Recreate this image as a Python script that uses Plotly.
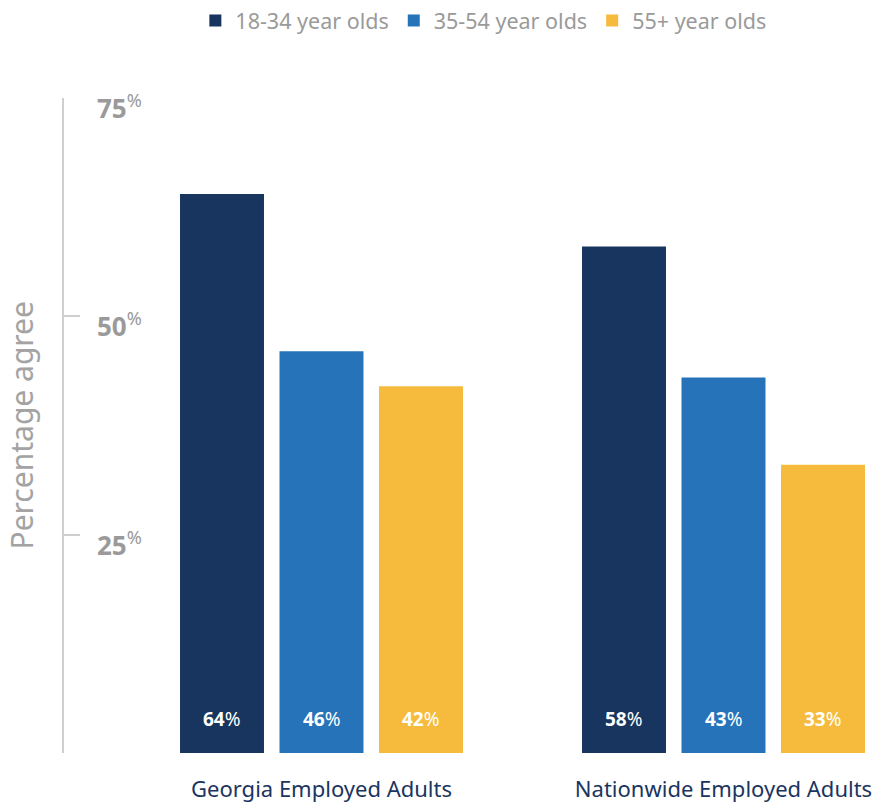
import plotly.graph_objects as go

categories = ["Georgia Employed Adults", "Nationwide Employed Adults"]
series_names = ["18-34 year olds", "35-54 year olds", "55+ year olds"]
values_18_34 = [64, 58]
values_35_54 = [46, 43]
values_55_plus = [42, 33]
colors = ["#17355e", "#2673b9", "#f6bb3c"]
y_tickvals = [0, 25, 50, 75]
y_ticklabels = ["25", "50", "75"]
y_title = "Percentage agree"

FONT = "Noto Sans"
all_series = [values_18_34, values_35_54, values_55_plus]

bargap = 0.2575
bargroupgap = 0.156
fig = go.Figure()
for name, vals, col in zip(series_names, all_series, colors):
    fig.add_trace(go.Bar(
        x=list(range(len(categories))), y=vals, name=name,
        marker=dict(color=col, line=dict(width=0)),
        hoverinfo="skip",
    ))

annotations = []
slot = (1 - bargap) / 3
for j, vals in enumerate(all_series):
    for i, v in enumerate(vals):
        annotations.append(dict(
            x=i + (j - 1) * slot, y=0, xref="x", yref="y",
            text=f"<b>{v}</b>%", showarrow=False,
            yanchor="bottom", yshift=19,
            font=dict(family=FONT, size=19, color="white"),
        ))
for lab in y_ticklabels:
    annotations.append(dict(
        x=0, xref="paper", xanchor="left", xshift=31,
        y=float(lab), yref="y", yanchor="top", yshift=12,
        text=f"<b>{lab}</b><sup>%</sup>", showarrow=False,
        font=dict(family=FONT, size=26, color="#9a9a9a"),
    ))
annotations.append(dict(
    x=0, xref="paper", xanchor="center", xshift=-43,
    y=0.5, yref="paper", yanchor="middle",
    text=y_title, textangle=-90, showarrow=False,
    font=dict(family=FONT, size=30, color="#a3a3a3"),
))

fig.update_layout(
    width=872, height=804,
    margin=dict(l=64, r=0, t=98, b=51),
    paper_bgcolor="white", plot_bgcolor="white",
    barmode="group", bargap=bargap, bargroupgap=bargroupgap,
    font=dict(family=FONT, color="#9a9a9a"),
    legend=dict(orientation="h", x=0.519, xref="paper", xanchor="center",
                y=1, yref="container", yanchor="top",
                font=dict(size=21.5, color="#9a9a9a"), traceorder="normal",
                itemclick=False, itemdoubleclick=False, itemwidth=30),
    annotations=annotations,
    showlegend=True,
)
fig.update_xaxes(
    tickmode="array", tickvals=list(range(len(categories))), ticktext=categories,
    range=[-(321.5 - 64) / 402, (872 - 321.5) / 402],
    showline=False, showgrid=False, zeroline=False,
    ticks="", tickfont=dict(family=FONT, size=22, color="#1a3560"),
    ticklabelstandoff=21, ticklabeloverflow="allow", automargin=False,
)
fig.update_yaxes(
    range=[0, 75], tickmode="array", tickvals=y_tickvals, showticklabels=False,
    showline=True, linecolor="#cfcfcf", linewidth=2,
    ticks="inside", ticklen=16, tickwidth=2, tickcolor="#cfcfcf",
    showgrid=False, zeroline=False, automargin=False,
)
fig.write_html("out.html", config={"displayModeBar": False},
               post_script="document.body.style.margin='0';")
